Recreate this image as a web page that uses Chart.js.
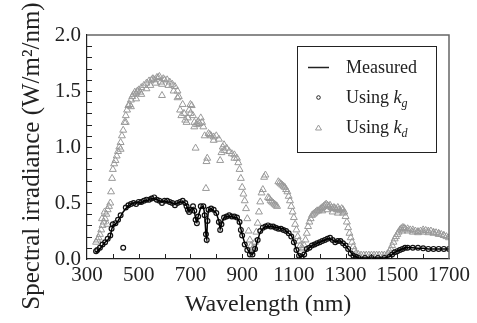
<!DOCTYPE html>
<html>
<head>
<meta charset="utf-8">
<script src="https://cdn.jsdelivr.net/npm/chart.js@4"></script>
<style>
  html, body { margin: 0; padding: 0; background: #fff; }
  #wrap { width: 477px; height: 323px; }
</style>
</head>
<body>
<div id="wrap"><canvas id="spectrum" width="477" height="323"></canvas></div>
<script>
// wavelength grid shared by the measured curve and the k_g estimate (nm)
var measNm = [335, 340, 350, 360, 370, 380, 390, 395, 400, 410, 420, 430, 440, 450, 460, 470, 480, 490, 500, 510,
  520, 530, 540, 550, 560, 570, 580, 590, 600, 610, 620, 630, 640, 650, 660, 670, 680, 685, 690, 695,
  700, 710, 715, 720, 725, 730, 740, 750, 755, 760, 763, 766, 770, 780, 790, 800, 810, 815, 820, 830,
  840, 850, 860, 870, 880, 890, 895, 900, 910, 920, 930, 940, 950, 960, 970, 980, 990, 1000, 1010, 1020,
  1030, 1040, 1050, 1060, 1070, 1080, 1090, 1100, 1110, 1120, 1130, 1140, 1150, 1160, 1170, 1180, 1190, 1200, 1210, 1220,
  1230, 1240, 1250, 1260, 1270, 1280, 1290, 1300, 1310, 1320, 1330, 1340, 1350, 1375, 1400, 1425, 1450, 1470, 1480, 1490,
  1500, 1510, 1520, 1530, 1540, 1560, 1580, 1600, 1620, 1640, 1660, 1680, 1700];

var measured = [0.06, 0.07, 0.09, 0.12, 0.15, 0.17, 0.20, 0.26, 0.30, 0.31, 0.34, 0.38, 0.42, 0.45, 0.47, 0.49, 0.50, 0.50, 0.51, 0.50,
  0.52, 0.52, 0.53, 0.54, 0.54, 0.53, 0.52, 0.51, 0.52, 0.51, 0.51, 0.50, 0.49, 0.50, 0.51, 0.51, 0.50, 0.48, 0.44, 0.43,
  0.44, 0.46, 0.43, 0.36, 0.33, 0.38, 0.46, 0.47, 0.40, 0.21, 0.18, 0.35, 0.44, 0.45, 0.43, 0.41, 0.34, 0.27, 0.31, 0.37,
  0.38, 0.38, 0.38, 0.37, 0.37, 0.33, 0.27, 0.22, 0.14, 0.09, 0.05, 0.04, 0.08, 0.17, 0.24, 0.27, 0.29, 0.29, 0.29, 0.29,
  0.28, 0.28, 0.27, 0.27, 0.25, 0.23, 0.21, 0.16, 0.08, 0.03, 0.02, 0.04, 0.08, 0.10, 0.12, 0.13, 0.14, 0.15, 0.16, 0.17,
  0.18, 0.18, 0.17, 0.15, 0.16, 0.16, 0.14, 0.12, 0.09, 0.06, 0.03, 0.02, 0.01, 0.01, 0.01, 0.01, 0.01, 0.02, 0.04, 0.06,
  0.07, 0.08, 0.09, 0.10, 0.10, 0.10, 0.095, 0.095, 0.09, 0.09, 0.09, 0.09, 0.09];

var usingKg = [0.07, 0.08, 0.10, 0.13, 0.15, 0.18, 0.21, 0.27, 0.31, 0.32, 0.35, 0.39, 0.10, 0.46, 0.48, 0.49, 0.50, 0.49, 0.51, 0.51,
  0.52, 0.53, 0.53, 0.54, 0.55, 0.53, 0.52, 0.50, 0.52, 0.52, 0.51, 0.50, 0.48, 0.50, 0.51, 0.52, 0.50, 0.47, 0.44, 0.42,
  0.44, 0.47, 0.43, 0.35, 0.32, 0.38, 0.47, 0.47, 0.39, 0.22, 0.17, 0.34, 0.44, 0.45, 0.44, 0.41, 0.33, 0.26, 0.31, 0.37,
  0.38, 0.39, 0.38, 0.38, 0.37, 0.33, 0.26, 0.21, 0.13, 0.08, 0.04, 0.04, 0.09, 0.17, 0.25, 0.28, 0.29, 0.30, 0.29, 0.29,
  0.28, 0.27, 0.27, 0.26, 0.25, 0.23, 0.20, 0.15, 0.08, 0.03, 0.02, 0.04, 0.09, 0.10, 0.12, 0.13, 0.14, 0.15, 0.16, 0.17,
  0.18, 0.19, 0.17, 0.15, 0.16, 0.16, 0.14, 0.12, 0.09, 0.05, 0.03, 0.02, 0.01, 0.01, 0.01, 0.01, 0.01, 0.02, 0.04, 0.06,
  0.07, 0.08, 0.09, 0.10, 0.10, 0.10, 0.10, 0.095, 0.09, 0.09, 0.09, 0.09, 0.09];

// k_d estimate, own wavelength list (nm)
var kdNm = [335, 340, 345, 350, 355, 358, 360, 365, 368, 370, 375, 378, 380, 385, 390, 393, 397, 400, 405, 410,
  415, 420, 425, 430, 435, 440, 445, 450, 455, 460, 465, 470, 475, 480, 485, 490, 495, 500, 505, 510,
  520, 530, 540, 550, 555, 560, 570, 575, 580, 585, 590, 595, 600, 610, 620, 630, 640, 650, 655, 660,
  665, 670, 675, 680, 685, 690, 695, 700, 705, 710, 715, 720, 725, 730, 740, 745, 750, 755, 760, 762,
  765, 770, 775, 780, 790, 800, 810, 815, 820, 825, 830, 840, 850, 860, 870, 880, 885, 890, 895, 900,
  905, 910, 915, 920, 925, 930, 935, 940, 945, 950, 955, 960, 965, 970, 975, 980, 985, 990, 1000, 1005,
  1010, 1015, 1020, 1025, 1030, 1035, 1040, 1045, 1050, 1055, 1060, 1065, 1070, 1075, 1080, 1085, 1090, 1095, 1100, 1105,
  1110, 1115, 1120, 1125, 1130, 1135, 1140, 1145, 1150, 1155, 1160, 1165, 1170, 1175, 1180, 1185, 1190, 1195, 1200, 1205,
  1210, 1215, 1220, 1225, 1230, 1235, 1240, 1245, 1250, 1255, 1260, 1265, 1270, 1275, 1280, 1285, 1290, 1295, 1300, 1305,
  1310, 1315, 1320, 1325, 1330, 1335, 1340, 1350, 1360, 1370, 1380, 1390, 1400, 1410, 1420, 1430, 1440, 1450, 1460, 1465,
  1470, 1475, 1480, 1485, 1490, 1495, 1500, 1505, 1510, 1515, 1520, 1525, 1530, 1540, 1550, 1560, 1570, 1580, 1590, 1600,
  1610, 1620, 1630, 1640, 1650, 1660, 1670, 1680, 1690, 1700,
  // second, lower row seen in the dense parts
  430, 450, 470, 490, 510, 530, 545, 565, 590, 615, 635, 650, 700, 715, 735, 790, 830, 870,
  1210, 1230, 1250, 1270, 1290, 1520, 1540, 1560, 1580, 1600, 1620, 1640, 1660, 1680];

var usingKd = [0.15, 0.17, 0.19, 0.22, 0.26, 0.36, 0.30, 0.33, 0.42, 0.36, 0.40, 0.31, 0.44, 0.47, 0.50, 0.60, 0.72, 0.80, 0.85, 0.88,
  0.92, 0.96, 1.00, 1.04, 1.10, 1.15, 1.22, 1.28, 1.33, 1.37, 1.38, 1.42, 1.45, 1.47, 1.49, 1.48, 1.50, 1.51, 1.49, 1.53,
  1.55, 1.57, 1.59, 1.60, 1.61, 1.60, 1.62, 1.62, 1.63, 1.58, 1.46, 1.61, 1.60, 1.60, 1.58, 1.56, 1.54, 1.50, 1.45, 1.33,
  1.28, 1.38, 1.30, 1.24, 1.22, 1.26, 1.33, 1.38, 1.37, 1.28, 1.22, 0.99, 1.20, 1.23, 1.26, 1.22, 1.18, 1.10, 0.63, 0.87,
  0.90, 1.12, 1.11, 1.10, 1.09, 1.10, 1.07, 0.88, 0.95, 1.00, 1.02, 0.99, 0.96, 0.94, 0.93, 0.90, 0.86, 0.80, 0.72, 0.64,
  0.58, 0.52, 0.45, 0.36, 0.25, 0.17, 0.12, 0.09, 0.10, 0.15, 0.24, 0.32, 0.42, 0.51, 0.59, 0.62, 0.73, 0.75, 0.55, 0.54,
  0.52, 0.51, 0.50, 0.49, 0.48, 0.47, 0.69, 0.68, 0.67, 0.66, 0.65, 0.64, 0.62, 0.60, 0.56, 0.52, 0.47, 0.42, 0.37, 0.31,
  0.26, 0.20, 0.16, 0.12, 0.10, 0.09, 0.12, 0.17, 0.23, 0.29, 0.33, 0.36, 0.39, 0.40, 0.41, 0.42, 0.43, 0.43, 0.44, 0.45,
  0.46, 0.47, 0.48, 0.49, 0.48, 0.47, 0.48, 0.46, 0.45, 0.46, 0.45, 0.44, 0.46, 0.44, 0.43, 0.45, 0.44, 0.42, 0.38, 0.33,
  0.28, 0.23, 0.19, 0.15, 0.11, 0.08, 0.05, 0.04, 0.035, 0.035, 0.035, 0.035, 0.035, 0.035, 0.035, 0.035, 0.035, 0.035, 0.04, 0.05,
  0.07, 0.09, 0.12, 0.15, 0.18, 0.20, 0.22, 0.24, 0.26, 0.27, 0.28, 0.28, 0.27, 0.27, 0.26, 0.26, 0.25, 0.245, 0.25, 0.26,
  0.255, 0.25, 0.25, 0.24, 0.235, 0.23, 0.22, 0.21, 0.20, 0.19,
  0.98, 1.22, 1.36, 1.43, 1.47, 1.52, 1.55, 1.57, 1.56, 1.55, 1.50, 1.44, 1.30, 1.18, 1.21, 1.06, 0.97, 0.90,
  0.43, 0.44, 0.42, 0.41, 0.41, 0.25, 0.25, 0.24, 0.235, 0.24, 0.235, 0.23, 0.22, 0.21];

var xTicks = [300, 500, 700, 900, 1100, 1300, 1500, 1700];
var yTicks = [0.0, 0.5, 1.0, 1.5, 2.0];
var yTitle = "Spectral irradiance (W/m\u00b2/nm)";

function toPoints(xs, ys) {
  return xs.map(function (x, i) { return { x: x, y: ys[i] }; });
}

var serif = "Liberation Serif";
Chart.defaults.font.family = serif;
Chart.defaults.color = "#222";

// inward tick marks + grey top/right frame
var frame = {
  id: "frame",
  afterDatasetsDraw: function (chart) {
    var ctx = chart.ctx, a = chart.chartArea;
    var xs = chart.scales.x, ys = chart.scales.y;
    ctx.save();
    ctx.strokeStyle = "#666";
    ctx.lineWidth = 1.5;
    ctx.beginPath();
    ctx.moveTo(a.left, a.top); ctx.lineTo(a.right, a.top); ctx.lineTo(a.right, a.bottom);
    ctx.stroke();
    ctx.strokeStyle = "#222";
    ctx.lineWidth = 1;
    ctx.beginPath();
    for (var v = 400; v < 1700; v += 100) {
      var px = Math.round(xs.getPixelForValue(v)) + 0.5;
      ctx.moveTo(px, a.bottom); ctx.lineTo(px, a.bottom - 5);
    }
    for (var k = 1; k < 20; k++) {
      var py = Math.round(ys.getPixelForValue(k / 10)) + 0.5;
      ctx.moveTo(a.left, py); ctx.lineTo(a.left + 5, py);
    }
    ctx.stroke();
    // y axis title, a bit below the plot centre like the original
    ctx.translate(32, 156);
    ctx.rotate(-Math.PI / 2);
    ctx.fillStyle = "#222";
    ctx.font = "25px " + serif;
    ctx.textAlign = "center";
    ctx.textBaseline = "middle";
    ctx.fillText(yTitle, 0, 0);
    ctx.restore();
  }
};

// legend with italic k and subscript
var legendBox = {
  id: "legendBox",
  afterDraw: function (chart) {
    var ctx = chart.ctx;
    ctx.save();
    ctx.fillStyle = "#fff";
    ctx.fillRect(297.5, 46.5, 139, 106);
    ctx.strokeStyle = "#222";
    ctx.lineWidth = 1;
    ctx.strokeRect(297.5, 46.5, 139, 106);
    ctx.beginPath();
    ctx.moveTo(308, 67.5); ctx.lineTo(329, 67.5);
    ctx.lineWidth = 1.5;
    ctx.stroke();
    ctx.lineWidth = 1;
    ctx.beginPath();
    ctx.arc(318.5, 97.5, 1.8, 0, Math.PI * 2);
    ctx.stroke();
    ctx.strokeStyle = "#9b9b9b";
    ctx.beginPath();
    ctx.moveTo(318.5, 125); ctx.lineTo(321.5, 130); ctx.lineTo(315.5, 130); ctx.closePath();
    ctx.stroke();
    ctx.fillStyle = "#222";
    ctx.textBaseline = "alphabetic";
    ctx.font = "18px " + serif;
    ctx.fillText("Measured", 346, 73);
    var rows = [["g", 103], ["d", 133]];
    rows.forEach(function (r) {
      ctx.font = "18px " + serif;
      ctx.fillText("Using ", 346, r[1]);
      var w = ctx.measureText("Using ").width;
      ctx.font = "italic 18px " + serif;
      ctx.fillText("k", 346 + w, r[1]);
      var wk = ctx.measureText("k").width;
      ctx.font = "italic 12px " + serif;
      ctx.fillText(r[0], 346 + w + wk, r[1] + 4);
    });
    ctx.restore();
  }
};

var ctx = document.getElementById("spectrum").getContext("2d");
var myChart = new Chart(ctx, {
  type: "scatter",
  data: {
    datasets: [
      {
        label: "Measured",
        data: toPoints(measNm, measured),
        showLine: true,
        borderColor: "#000",
        borderWidth: 1.5,
        pointRadius: 0,
        order: 1,
      },
      {
        label: "Using kg",
        data: toPoints(measNm, usingKg),
        pointStyle: "circle",
        pointRadius: 2.4,
        borderColor: "#111",
        backgroundColor: "rgba(0,0,0,0)",
        borderWidth: 1.2,
        order: 2,
      },
      {
        label: "Using kd",
        data: toPoints(kdNm, usingKd),
        pointStyle: "triangle",
        pointRadius: 4,
        borderColor: "#999",
        backgroundColor: "rgba(0,0,0,0)",
        borderWidth: 1,
        order: 3,
      },
    ],
  },
  options: {
    responsive: false,
    animation: false,
    layout: { padding: { top: 35, right: 28, left: 0, bottom: 0 } },
    plugins: { legend: { display: false }, tooltip: { enabled: false } },
    scales: {
      x: {
        type: "linear",
        min: 300,
        max: 1700,
        afterFit: function (s) { s.height = 64; },
        afterBuildTicks: function (s) { s.ticks = xTicks.map(function (v) { return { value: v }; }); },
        ticks: {
          color: "#222",
          font: { family: serif, size: 21 },
          padding: 4,
          maxRotation: 0,
          autoSkip: false,
          callback: function (v) { return String(v); },
        },
        grid: { display: true, drawOnChartArea: false, drawTicks: false },
        border: { display: true, color: "#222", width: 1.2 },
        title: { display: true, text: "Wavelength (nm)", color: "#222", font: { family: serif, size: 24 }, padding: { top: 0, bottom: 4 } },
      },
      y: {
        min: 0,
        max: 2,
        afterFit: function (s) { s.width = 87; },
        afterBuildTicks: function (s) { s.ticks = yTicks.map(function (v) { return { value: v }; }); },
        ticks: {
          color: "#222",
          font: { family: serif, size: 21 },
          padding: 6,
          callback: function (v) { return Number(v).toFixed(1); },
        },
        grid: { display: true, drawOnChartArea: false, drawTicks: false },
        border: { display: true, color: "#222", width: 1.2 },
        title: { display: false },
      },
    },
  },
  plugins: [frame, legendBox],
});
</script>
</body>
</html>
